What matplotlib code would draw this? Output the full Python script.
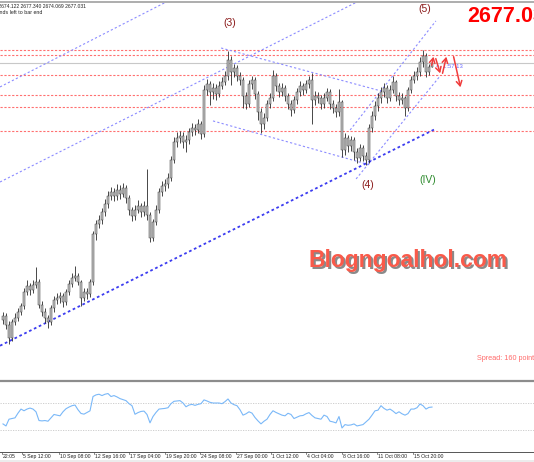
import matplotlib
matplotlib.use("Agg")
import matplotlib.pyplot as plt
import numpy as np

# XAUUSD H4, bar by bar (close / high / low); open = previous close
CLOSE = [2487, 2480.3, 2470.5, 2482.5, 2485.5, 2490, 2494.5, 2505, 2509.5, 2506.5,
         2510.3, 2512.5, 2495.3, 2490, 2485.5, 2482.5, 2493, 2499, 2500.5, 2502,
         2497.5, 2505, 2511, 2515.5, 2517, 2512.5, 2500.5, 2505, 2503.5, 2512.5,
         2548.5, 2556, 2559, 2565, 2571, 2577, 2580, 2577, 2581.5, 2578.5,
         2583, 2575.5, 2566.5, 2562, 2566.5, 2569.5, 2565, 2569.5, 2562.8, 2545.5,
         2557.5, 2566.5, 2580, 2584.5, 2586, 2590.5, 2604, 2617.5, 2620.5, 2622,
         2617.5, 2619, 2625, 2628, 2626.5, 2631, 2623.5, 2656.5, 2661, 2655,
         2658, 2653.5, 2659.5, 2662.5, 2667, 2679, 2670, 2673, 2667, 2664,
         2652, 2646, 2661, 2664, 2653.5, 2640, 2631, 2635.5, 2646, 2650.5,
         2667, 2659.5, 2655, 2658, 2652, 2646, 2641.5, 2649, 2655, 2659.5,
         2656.5, 2661, 2664, 2649, 2652, 2650.5, 2646, 2650.5, 2655, 2646,
         2643, 2640, 2647.5, 2611.5, 2620.5, 2614.5, 2619, 2610, 2605.5, 2613,
         2607, 2604, 2628, 2637, 2644.5, 2650.5, 2655, 2658, 2650.5, 2656.5,
         2662.5, 2652, 2649, 2650.5, 2643, 2656.5, 2664, 2667, 2670, 2677.5,
         2682, 2670, 2674.122, 2677.031]
HIGH = [2490, 2489, 2483, 2485, 2489, 2493, 2497, 2508, 2514, 2512,
        2514, 2523.8, 2515, 2498, 2493, 2488, 2495, 2502, 2504, 2505,
        2504, 2507, 2514, 2519, 2524.5, 2519, 2514, 2508, 2508, 2515,
        2551, 2559, 2563, 2568, 2575, 2581, 2584, 2583, 2586, 2585,
        2587, 2585, 2578, 2569, 2570, 2574, 2572, 2573, 2597.3, 2565,
        2560, 2570, 2583, 2588, 2590, 2594, 2607, 2621, 2625, 2626,
        2625, 2623, 2628, 2632, 2631, 2635, 2633, 2660, 2665, 2663,
        2662, 2661, 2663, 2666, 2671, 2685.8, 2682, 2676, 2675, 2670,
        2666, 2655, 2664, 2667, 2666, 2656, 2643, 2639, 2649, 2654,
        2671.5, 2669, 2662, 2662, 2660, 2654, 2649, 2652, 2658, 2663,
        2662, 2664, 2667, 2669.3, 2656, 2655, 2653, 2654, 2658, 2657,
        2649, 2646, 2657, 2649, 2624, 2623, 2622, 2621, 2613, 2616,
        2615, 2610, 2631, 2641, 2648, 2654, 2659, 2662, 2660, 2660,
        2667, 2664, 2655, 2654, 2652, 2659, 2667, 2671, 2674, 2681,
        2686.5, 2684, 2676, 2677.34]
LOW = [2481, 2477, 2466, 2468, 2480, 2483, 2488, 2492, 2503, 2503,
       2504, 2508, 2493, 2487, 2482, 2478, 2480, 2490, 2496, 2497,
       2494, 2495, 2503, 2509, 2513, 2510, 2494.5, 2498, 2500, 2501,
       2510, 2544, 2553, 2556, 2562, 2568, 2574, 2573, 2574, 2575,
       2576, 2572, 2563, 2558, 2559, 2564, 2561, 2562, 2559, 2542.5,
       2543, 2555, 2564, 2577, 2581, 2583, 2588, 2602, 2614, 2617,
       2613, 2610, 2616, 2622, 2623, 2624, 2620, 2621, 2653, 2645,
       2650, 2649, 2651, 2657, 2660, 2664, 2660, 2666, 2663, 2660,
       2643, 2642, 2644, 2657, 2650, 2634, 2624.3, 2627, 2633, 2643,
       2648, 2656, 2651, 2652, 2648, 2642, 2637, 2639, 2646, 2652,
       2653, 2654, 2658, 2631, 2645, 2647, 2642, 2643, 2648, 2642,
       2639, 2636, 2637, 2606, 2608, 2610, 2611, 2604, 2602, 2603,
       2603, 2600.3, 2602, 2625, 2634, 2641, 2647, 2651, 2647, 2648,
       2654, 2648, 2645, 2646, 2637, 2641, 2654, 2662, 2664, 2667,
       2674, 2666, 2668, 2674.069]
FIRST_OPEN = 2484

RSI = [39, 36, 46, 47, 48, 55, 61, 58.5, 61, 62.5,
       61, 57, 44, 43.5, 44, 43, 48, 53, 52, 51,
       57, 61.5, 64, 66, 67, 60, 54.5, 53.5, 56, 58.4,
       79.6, 82, 83, 81, 83, 84, 79.6, 81, 79, 76.5,
       75, 73.5, 69, 66, 53.3, 55.8, 57.5, 58, 53, 40.6,
       50, 56, 61, 61.5, 62, 63, 69, 72.5, 73, 73.5,
       70, 64.4, 67, 68, 66.5, 68, 69, 74.6, 73, 71,
       70, 70, 70, 69, 72, 76, 70, 67.5, 66, 60,
       52, 54, 57, 55, 48.5, 43.5, 39.1, 43, 46, 53,
       58.5, 56, 54, 52, 51, 54.8, 53, 47, 49, 51,
       51.5, 54, 55.8, 51.5, 48, 47, 46, 52, 50, 43,
       42, 40.5, 50, 33, 38, 37, 37.5, 39, 36, 37,
       38, 42, 46, 52, 58.4, 59.4, 66, 62, 59.4, 61,
       58, 54.3, 57, 54, 52, 54.3, 61, 61, 63, 68.5,
       66, 61, 63.5, 64]
RSI_LEVELS = [70, 30]

# horizontal levels (price)
RED_LEVELS = [2686.5, 2683.1, 2667.4, 2653.1, 2644.1, 2626.1]
LAST_PRICE = 2677.03

# trend lines: (bar0, price0, bar1, price1)
THIN_LINES = [(-1, 2658.8, 55.7, 2724.0),
              (-1, 2587.5, 119.3, 2724.0),
              (115.7, 2626.5, 144.3, 2708.3),
              (117.7, 2589.8, 145.7, 2667.0),
              (72.7, 2688.0, 126.0, 2655.8),
              (70.0, 2633.3, 122.3, 2600.3)]
MAIN_LINE = (-1, 2464.7, 144.3, 2627.5)

# wave labels: (text, bar, price, colour)
WAVES = [("(3)", 75.7, 2706.8, "#8b1a1a"),
         ("(5)", 140.7, 2717.2, "#8b1a1a"),
         ("(4)", 121.7, 2585.2, "#8b1a1a"),
         ("(IV)", 141.7, 2589.0, "#2e8b2e")]

# projected zig-zag arrows (bar0, price0, bar1, price1)
ARROWS = [(142.7, 2673.0, 143.7, 2683.5),
          (144.0, 2682.0, 146.0, 2667.0),
          (146.3, 2667.0, 148.0, 2683.5),
          (150.0, 2683.5, 152.7, 2656.5)]

TIME_LABELS = ["22:05", "5 Sep 12:00", "10 Sep 08:00", "12 Sep 16:00", "17 Sep 04:00",
               "19 Sep 20:00", "24 Sep 08:00", "27 Sep 00:00", "1 Oct 12:00",
               "4 Oct 04:00", "8 Oct 16:00", "11 Oct 08:00", "15 Oct 20:00"]
TIME_BARS = [-0.4, 6.3, 18.5, 30.2, 42.0, 54.0, 65.8, 77.7, 89.3, 101.0, 113.0, 124.8, 136.7]

W, H = 534, 462
plt.rcParams["font.family"] = ["Liberation Sans", "DejaVu Sans"]
fig = plt.figure(figsize=(W / 100, H / 100), dpi=100)
fig.patch.set_facecolor("white")

XLIM = (-1, 177)
ax = fig.add_axes([0, 1 - 379 / H, 1, 376 / H])
ax.set_xlim(*XLIM)
ax.set_ylim(2439.75, 2721.75)
ax.axis("off")

n = len(CLOSE)
x = np.arange(n)
opens = np.array([FIRST_OPEN] + CLOSE[:-1])
close = np.array(CLOSE)
ax.vlines(x, LOW, HIGH, color="#2a2a2a", lw=0.6, zorder=3)
bottom = np.minimum(opens, close)
height = np.maximum(np.abs(close - opens), 0.4)
ax.bar(x, height, bottom=bottom, width=0.62, color="#c4c4c4",
       edgecolor="#3a3a3a", linewidth=0.35, zorder=4)

for lvl in RED_LEVELS:
    ax.axhline(lvl, color="#ff7070", lw=0.8, ls=(0, (2, 1.5)), zorder=1)
ax.axhline(LAST_PRICE, color="#c8c8c8", lw=0.8, zorder=1)

for x0, y0, x1, y1 in THIN_LINES:
    ax.plot([x0, x1], [y0, y1], color="#8c8cff", lw=0.8, ls=(0, (2, 2)), zorder=2)
x0, y0, x1, y1 = MAIN_LINE
ax.plot([x0, x1], [y0, y1], color="#3c3cf0", lw=1.3, ls=(0, (1.5, 1.5)), zorder=2)

for txt, bx, py, col in WAVES:
    ax.text(bx, py, txt, color=col, fontsize=7.5, ha="center", va="center")

for x0, y0, x1, y1 in ARROWS:
    ax.annotate("", xy=(x1, y1), xytext=(x0, y0),
                arrowprops=dict(arrowstyle="->,head_length=0.35,head_width=0.2",
                                color="#f03c3c", lw=1.1), zorder=6)
ax.text(144.5, 2674.2, "<- 1:57:13", color="#6a6aff", fontsize=4.2, va="center")

# indicator pane
ax2 = fig.add_axes([0, 1 - 450.25 / H, 1, 67.5 / H])
ax2.set_xlim(*XLIM)
ax2.set_ylim(0, 100)
ax2.axis("off")
for lvl in RSI_LEVELS:
    ax2.axhline(lvl, color="#c8c8c8", lw=0.6, ls=(0, (1.5, 1.5)))
ax2.plot(x, RSI, color="#7ab8f8", lw=0.8)

# overlay in pixel space: borders, texts, time axis
ov = fig.add_axes([0, 0, 1, 1], zorder=10)
ov.set_xlim(0, W)
ov.set_ylim(H, 0)
ov.axis("off")
ov.patch.set_alpha(0)
ov.plot([0, W], [1.5, 1.5], color="#a0a0a0", lw=1.2)
ov.plot([0, W], [380.5, 380.5], color="#8c8c8c", lw=1.6)
ov.plot([0, W], [451.5, 451.5], color="#555555", lw=0.7)
ov.add_patch(plt.Rectangle((0, 460), W, 2, color="#ececec", lw=0))

for lab, b in zip(TIME_LABELS, TIME_BARS):
    px = (b + 1) * 3
    ov.plot([px, px], [451.5, 453.5], color="#555555", lw=0.5)
    ov.text(px + 1, 456.5, lab, fontsize=3.7, color="#222222", va="center", ha="left")

ov.text(86, 5.5, "XAUUSD,H4  2674.122 2677.340 2674.069 2677.031",
        fontsize=3.6, color="#222222", ha="right", va="center")
ov.text(42, 13, "57 seconds left to bar end", fontsize=3.8, color="#222222",
        ha="right", va="center")

ov.text(467, 16, "2677.03", fontsize=15.5, fontweight="bold", color="#ff0000",
        ha="left", va="center")
ov.text(477, 359, "Spread: 160 points", fontsize=5.2, color="#ff6a6a",
        ha="left", va="center")

ov.text(310.5, 268.5, "Blogngoalhol.com", fontsize=16.5, fontweight="bold",
        color="#8a8a8a", ha="left", va="baseline")
ov.text(309, 266.5, "Blogngoalhol.com", fontsize=16.5, fontweight="bold",
        color="#fa5a4a", ha="left", va="baseline")

fig.savefig("out.png", dpi=100)
